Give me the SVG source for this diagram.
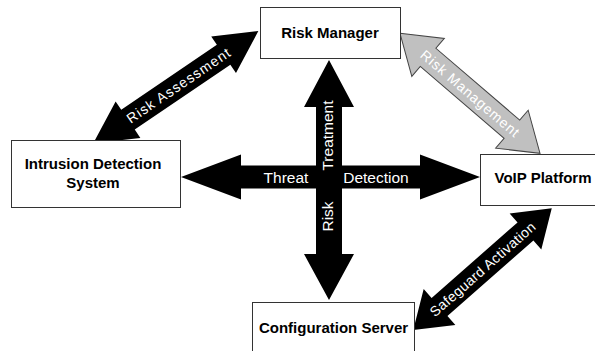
<svg xmlns="http://www.w3.org/2000/svg" width="595" height="351" viewBox="0 0 595 351">
<style>
.box{fill:#fff;stroke:#333;stroke-width:1}
.lbl{font-family:"Liberation Sans",Arial,sans-serif;font-weight:bold;font-size:15px;fill:#000;text-anchor:middle}
.blk{fill:#000}
.gry{fill:#c0c0c0;stroke:#444;stroke-width:1}
.ctr{font-family:"Liberation Sans",Arial,sans-serif;font-size:15.5px;fill:#fff;text-anchor:middle}
.dia{font-family:"Liberation Sans",Arial,sans-serif;font-size:14px;fill:#fff;text-anchor:middle}
</style>
<rect width="595" height="351" fill="#fff"/>
<g id="connectors">
<g id="risk-assessment" transform="translate(175.8,87.2) rotate(-34.2)">
<polygon class="blk" points="-99.8,0 -57.8,-22 -57.8,-12 57.8,-12 57.8,-22 99.8,0 57.8,22 57.8,12 -57.8,12 -57.8,22"/>
<text class="dia" x="3" y="5" textLength="122" lengthAdjust="spacing">Risk Assessment</text>
</g>
<g id="risk-management" transform="translate(470,93.3) rotate(40.6)">
<polygon class="gry" points="-92.2,0 -55.2,-25 -55.2,-12 55.2,-12 55.2,-25 92.2,0 55.2,25 55.2,12 -55.2,12 -55.2,25"/>
<text class="dia" x="0" y="5" textLength="125" lengthAdjust="spacing">Risk Management</text>
</g>
<g id="safeguard-activation" transform="translate(482.5,269.2) rotate(-41.3)">
<polygon class="blk" points="-92.2,0 -57.2,-24 -57.2,-12 57.2,-12 57.2,-24 92.2,0 57.2,24 57.2,12 -57.2,12 -57.2,24"/>
<text class="dia" x="0" y="5" textLength="135" lengthAdjust="spacing">Safeguard Activation</text>
</g>
<g id="threat-detection">
<polygon class="blk" points="181,177 241,154.5 241,165.5 420,165.5 420,154.5 480,177 420,199.5 420,188.5 241,188.5 241,199.5"/>
</g>
<g id="risk-treatment">
<polygon class="blk" points="329,60 354,107 342,107 342,254 354,254 329,300 304,254 316,254 316,107 304,107"/>
</g>
<text class="ctr" x="286" y="183">Threat</text>
<text class="ctr" x="376" y="183">Detection</text>
<text class="ctr" transform="translate(333,135.5) rotate(-90)">Treatment</text>
<text class="ctr" transform="translate(333,216.5) rotate(-90)">Risk</text>
</g>
<g id="risk-manager">
<rect class="box" x="260.5" y="7.5" width="140" height="51"/>
<text class="lbl" x="330" y="38">Risk Manager</text>
</g>
<g id="intrusion-detection-system">
<rect class="box" x="11.5" y="140.5" width="169" height="67"/>
<text class="lbl" x="93" y="169">Intrusion Detection</text>
<text class="lbl" x="93" y="188">System</text>
</g>
<g id="voip-platform">
<rect class="box" x="480.5" y="154.5" width="140" height="51"/>
<text class="lbl" x="543" y="183">VoIP Platform</text>
</g>
<g id="configuration-server">
<rect class="box" x="252.5" y="302.5" width="162" height="60"/>
<text class="lbl" x="333.5" y="333">Configuration Server</text>
</g>
</svg>
